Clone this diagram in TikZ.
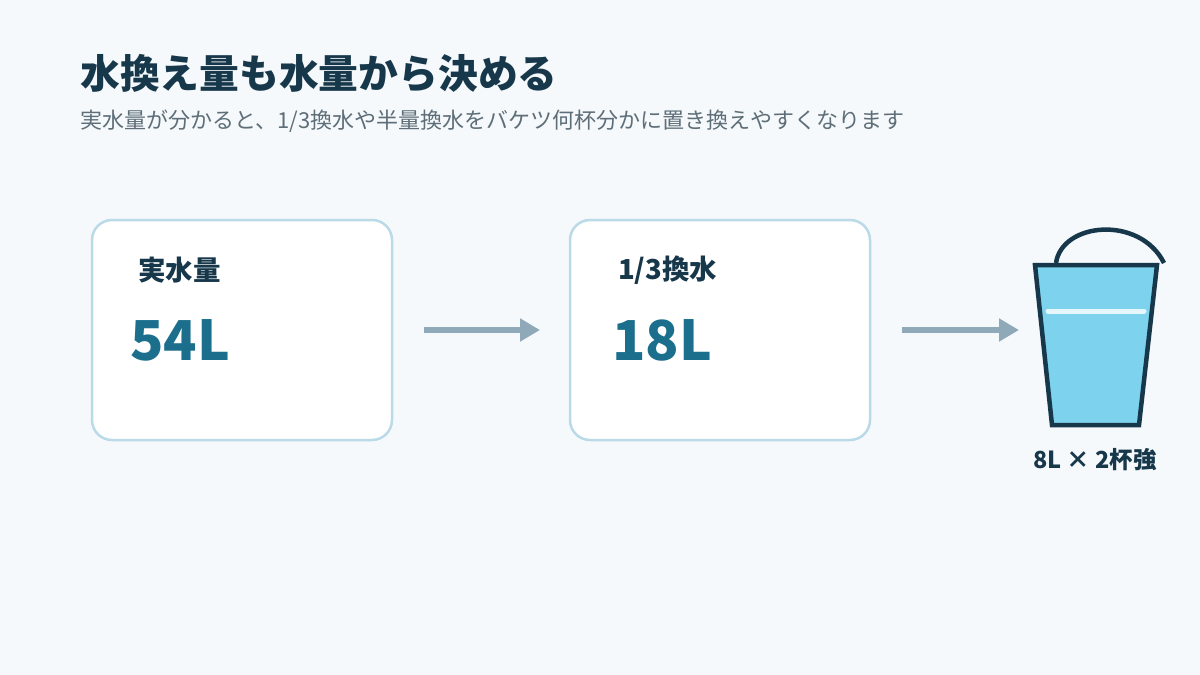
\documentclass[tikz,border=0pt]{standalone}
\usepackage{fontspec}
\setmainfont{Noto Sans CJK JP}
\usetikzlibrary{arrows.meta}
\definecolor{bg}{HTML}{F5F9FC}
\definecolor{dark}{HTML}{17374A}
\definecolor{gray1}{HTML}{5E6E78}
\definecolor{boxb}{HTML}{BBDAE7}
\definecolor{num}{HTML}{1B6F8C}
\definecolor{arr}{HTML}{8FA9B8}
\definecolor{water}{HTML}{7DD3EE}
\tikzset{card/.style={draw=boxb,line width=2.5pt,fill=white,rounded corners=20pt},
lbl/.style={anchor=west,font=\fontsize{27.5}{31}\selectfont\bfseries,text=dark,inner sep=0},
numtxt/.style={anchor=west,font=\fontsize{55}{62}\selectfont\bfseries,text=num,inner sep=0},
flow/.style={draw=arr,line width=6pt,-{Triangle[length=20pt,width=22pt]}}}
\begin{document}
\begin{tikzpicture}[x=1pt,y=-1pt]
\fill[bg] (0,0) rectangle (1200,675);
\useasboundingbox (0,0) rectangle (1200,675);
\node[anchor=base west,inner sep=0,font=\fontsize{39.8}{44}\selectfont\bfseries,text=dark] (title) at (80,88) {水換え量も水量から決める};
\node[anchor=base west,inner sep=0,font=\fontsize{22}{26}\selectfont,text=gray1] (sub) at (80,128) {実水量が分かると、1/3換水や半量換水をバケツ何杯分かに置き換えやすくなります};
\node[card,minimum width=300pt,minimum height=220pt] (c1) at (242,330) {};
\node[card,minimum width=300pt,minimum height=220pt] (c2) at (720,330) {};
\node[lbl] (l1) at (138,270) {実水量};
\node[numtxt] (n1) at (130,340) {54L};
\node[lbl] (l2) at (618,270) {1/3換水};
\node[numtxt] (n2) at (612,340) {18L};
\coordinate (a1s) at (424,330); \coordinate (a1e) at (540,330);
\coordinate (a2s) at (902,330); \coordinate (a2e) at (1019,330);
\draw[flow] (a1s) -- (a1e);
\draw[flow] (a2s) -- (a2e);
\draw[dark,line width=4.5pt] (1056,263) .. controls (1062,222) and (1140,215) .. (1164,263);
\draw[dark,line width=4.5pt,fill=water,line join=miter] (1035,265) -- (1157,265) -- (1139,425) -- (1052,425) -- cycle;
\draw[white!80!water,line width=5pt,line cap=round] (1048,311) -- (1144,311);
\node[anchor=center,inner sep=0,font=\fontsize{23.5}{27}\selectfont\bfseries,text=dark] (bl) at (1095,460) {8L × 2杯強};
\end{tikzpicture}
\end{document}
